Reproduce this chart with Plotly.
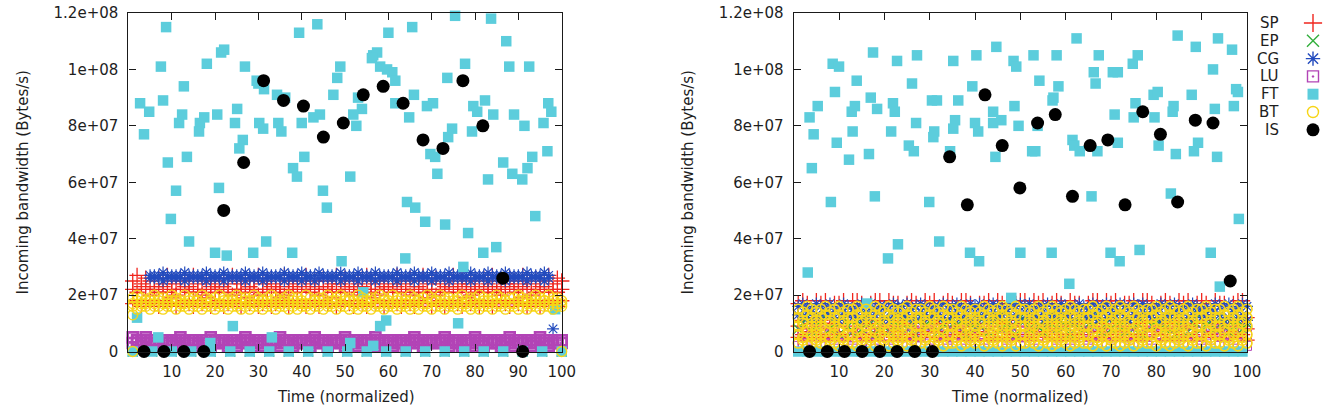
import plotly.graph_objects as go

W, H = 1332, 411

# ---------------- data (bandwidth values in MB/s, i.e. x1e6 Bytes/s) ----------------
TIME = [1, 2, 3, 4, 5, 6, 7, 8, 9, 10, 11, 12, 13, 14, 15, 16, 17, 18, 19, 20,
        21, 22, 23, 24, 25, 26, 27, 28, 29, 30, 31, 32, 33, 34, 35, 36, 37, 38, 39, 40,
        41, 42, 43, 44, 45, 46, 47, 48, 49, 50, 51, 52, 53, 54, 55, 56, 57, 58, 59, 60,
        61, 62, 63, 64, 65, 66, 67, 68, 69, 70, 71, 72, 73, 74, 75, 76, 77, 78, 79, 80,
        81, 82, 83, 84, 85, 86, 87, 88, 89, 90, 91, 92, 93, 94, 95, 96, 97, 98, 99, 100]

X_TICKS = [10, 20, 30, 40, 50, 60, 70, 80, 90, 100]
Y_TICKS = [0, 2e7, 4e7, 6e7, 8e7, 1e8, 1.2e8]
Y_TICK_TEXT = ["0", "2e+07", "4e+07", "6e+07", "8e+07", "1e+08", "1.2e+08"]
SERIES = ["SP", "EP", "CG", "LU", "FT", "BT", "IS"]

# ----- left panel -----
SP_L_A = [25,27,24,26,25,23,26,24,27,25, 24,26,25,23,27,24,25,26,24,25, 23,26,24,27,25,24,26,23,25,27,
          24,25,26,24,23,27,25,24,26,25, 27,24,25,23,26,25,24,27,24,26, 25,23,24,26,27,25,24,25,23,26,
          24,27,25,24,26,23,25,27,24,25, 26,24,23,25,27,24,26,25,24,23, 25,26,24,27,25,23,24,26,25,24,
          27,25,24,26,23,25,27,24,26,25]
SP_L_B = [22,21,23,22,20,22,21,23,21,22, 20,22,23,21,22,21,20,22,23,21, 22,23,21,20,22,22,21,23,22,20,
          21,22,23,22,21,20,22,23,21,22, 23,21,22,20,22,23,21,22,21,23, 22,20,21,23,22,21,22,20,23,22,
          21,23,22,21,20,22,23,21,22,21, 20,22,21,23,22,21,23,22,20,21, 22,21,23,22,21,20,22,23,21,22,
          23,22,20,21,22,23,21,22,21,22]
SP_L_C = [17,18,16,17,18,17,16,18,17,19, 16,17,18,17,16,18,17,19,16,17, 18,16,17,18,17,16,19,17,18,16,
          17,18,16,17,19,18,16,17,18,17, 16,18,17,16,18,17,19,16,17,18, 17,16,18,17,16,19,17,18,16,17,
          18,17,16,18,17,16,18,17,19,16, 17,18,16,17,18,17,16,19,17,18, 16,17,18,16,17,18,17,16,18,17,
          19,16,17,18,16,17,18,17,16,18]
EP_L_T = [1, 5.5, 10, 14.5, 19, 23.5, 28, 32.5, 37, 41.5, 46, 50.5, 55, 59.5, 64, 68.5, 73, 77.5, 82, 86.5, 91, 95.5, 100]
EP_L_V = [0, 0, 0, 0, 0, 0, 0, 0, 0, 0, 0, 0, 0, 0, 0, 0, 0, 0, 0, 0, 0, 0, 0]
CG_L_A = [None,None,None,None, 27,26,27,28,26,27,
          26,27,28,27,26,27,26,28,27,26, 27,28,26,27,27,26,28,27,26,27, 28,26,27,26,27,28,27,26,27,28,
          26,27,27,28,26,27,26,27,28,26, 27,26,28,27,26,27,28,26,27,27, 26,28,27,26,27,28,26,27,26,28,
          27,26,27,28,26,27,27,26,28,27, 26,27,28,26,27,26,28,27,26,27, 27,28,26,27,26,28,27, None,None,None]
CG_L_B = [None,None,None,None, 26,27,26,25,27,26,
          27,26,25,26,27,26,27,25,26,27, 26,25,27,26,26,27,25,26,27,26, 25,27,26,27,26,25,26,27,26,25,
          27,26,25,26,27,26,27,26,25,27, 26,27,25,26,27,26,25,27,26,26, 27,25,26,27,26,25,27,26,27,25,
          26,27,26,25,27,26,26,27,25,26, 27,26,25,27,26,27,25,26,27,26, 26,25,27,26,27,25,26, 8,None,None]
LU_L_A = [5,4,4,5,4,4,3,4,4,4, 4,5,4,4,4,3,4,4,5,4, 4,4,3,4,4,4,5,4,4,4, 3,4,4,4,5,4,4,4,3,4,
          4,4,5,4,4,3,4,4,4,5, 4,4,4,3,4,4,5,4,4,4, 4,3,4,4,4,5,4,4,3,4, 4,4,5,4,4,4,3,4,4,5,
          4,4,4,3,4,4,4,5,4,4, 3,4,4,4,5,4,4,3,4,4]
LU_L_B = [3,3,2,3,3,2,3,3,3,2, 3,2,3,3,3,2,3,3,2,3, 3,3,2,3,2,3,3,3,2,3, 2,3,3,3,2,3,3,2,3,3,
          3,2,3,3,3,2,3,3,3,2, 3,3,2,3,3,3,2,3,3,3, 2,3,3,2,3,3,3,2,3,3, 3,3,3,2,3,3,2,3,3,2,
          3,2,3,3,3,2,3,3,2,3, 3,3,2,3,3,3,2,3,3,3]
FT_L_T = [8.7,7.5,2.7,4.8,3.6,8.0,12.8,12.4,11.7,9.1,13.5,11.0,18.1,21.4,22.1,16.5,16.3,17.5,20.5,26.9,
          25.1,24.6,26.4,25.6,20.9,29.6,30.0,31.3,30.2,31.1,34.3,36.2,34.6,35.3,39.4,43.6,40.0,42.7,44.2,40.6,
          38.0,38.9,44.9,
          75.4,83.7,87.2,65.5,60.0,56.5,57.4,56.2,58.1,59.7,60.9,61.6,48.9,48.2,47.3,53.0,53.9,51.9,52.6,61.6,
          64.8,65.9,68.9,70.3,73.6,77.7,74.7,73.8,69.7,70.8,71.3,79.6,82.3,84.2,79.3,80.5,87.9,92.5,89.0,91.4,
          95.8,96.9,97.6,86.5,88.6,90.9,92.1,93.2,96.7,83.0,51.2,64.3,
          9.8,14.0,20.0,22.7,28.8,31.8,37.8,45.8,2.0,6.9,24.1,18.9,33.1,51.2,56.5,
          93.9,49.2,63.9,66.2,68.5,73.1,78.4,81.9,84.9,77.3,54.2,59.5,58.1,76.1,98.5,
          1,5.5,10,14.5,19,23.5,28,32.5,37,41.5,46,50.5,55,59.5,64,68.5,73,77.5,82,86.5,91,95.5,100]
FT_L_V = [115,101,88,85,77,89,94,84,81,67,69,57,102,106,107,81,78,83,84,101,
          86,81,75,72,58,96,95,93,81,79,91,90,81,78,113,116,81,83,84,69,
          65,62,57,
          119,118,110,115,113,105,106,104,101,100,99,96,101,97,91,90,86,84,80,88,
          83,91,87,88,97,102,79,76,70,69,63,87,89,84,78,85,101,101,84,80,
          81,88,85,67,63,61,65,69,71,61,62,53,
          47,39,35,34,35,39,35,51,12,5,9,3,5,3,2,
          48,32,33,51,46,45,42,35,37,30,21,11,9,10,15,
          0,0,0,0,0,0,0,0,0,0,0,0,0,0,0,0,0,0,0,0,0,0,0]
BT_L_A = [19,20,19,18,19,20,19,19,18,20, 19,18,20,19,19,18,20,19,18,19, 20,19,18,19,20,19,19,18,20,19,
          18,19,20,19,18,19,20,19,19,18, 20,19,18,19,19,20,18,19,20,19, 19,18,20,19,18,19,19,20,19,18,
          20,19,19,18,20,19,18,19,20,19, 18,20,19,19,18,19,20,18,19,19, 20,19,18,19,20,19,18,19,19,20,
          19,18,19,20,19,18,20,19,19,18]
BT_L_B = [17,18,17,17,18,17,18,17,17,18, 18,17,17,18,17,18,17,17,18,17, 17,18,17,18,17,17,18,17,18,17,
          18,17,18,17,17,18,17,18,17,17, 17,17,18,17,18,17,17,18,17,18, 18,17,17,18,17,18,17,17,18,17,
          17,18,17,17,18,17,18,17,17,18, 18,17,18,17,17,18,17,17,18,17, 17,18,17,18,17,17,18,17,17,18,
          18,17,17,18,17,18,17,18,17,17]
BT_L_C = [16,15,16,16,15,16,16,15,16,16, 15,16,16,15,16,16,15,16,16,15, 16,16,15,16,16,15,16,15,16,16,
          15,16,16,15,16,16,15,16,15,16, 16,15,16,16,15,16,16,15,16,16, 15,16,15,16,16,15,16,16,15,16,
          16,15,16,16,15,16,15,16,16,15, 16,16,15,16,16,15,16,16,15,16, 15,16,16,15,16,16,15,16,16,15,
          16,15,16,16,15,16,16,15,16,16]
BT_L_EXTRA_T = [1, 1, 100]
BT_L_EXTRA_V = [13, 0, 0]
IS_L_T = [3.6, 8.2, 12.8, 17.4, 22.0, 26.6, 31.2, 35.8, 40.4, 45.0, 49.6, 54.2, 58.8, 63.4, 68.0, 72.6, 77.2, 81.8, 86.4, 91.0]
IS_L_V = [0, 0, 0, 0, 50, 67, 96, 89, 87, 76, 81, 91, 94, 88, 75, 72, 96, 80, 26, 0]

# ----- right panel -----
SP_R_A = [17,18,17,12,18,17,18,10,17,17, 18,13,18,18,17,11,17,18,18,12, 18,17,17,10,17,18,17,13,18,17,
          18,11,17,18,17,12,18,18,17,10, 17,17,18,13,18,17,17,11,17,18, 18,12,18,17,18,10,17,18,17,13,
          18,17,17,11,17,18,18,12,18,17, 18,10,17,17,18,13,18,18,17,11, 17,18,17,12,18,17,18,10,17,18,
          17,13,18,17,17,11,17,18,18,12]
SP_R_B = [9,11,8,10,9,11,10,8,9,10, 11,9,8,10,11,9,10,8,11,9, 10,8,9,11,10,9,8,10,11,9, 8,10,11,9,10,8,9,11,10,9,
          11,8,10,9,11,10,8,9,10,11, 9,10,8,11,9,10,11,8,9,10, 10,9,11,8,10,9,11,10,8,9, 11,10,9,8,10,11,9,10,8,11,
          9,8,10,11,9,10,8,9,11,10, 10,11,9,8,10,9,11,10,9,8]
SP_R_C = [5,6,4,7,5,6,4,5,7,6, 4,5,6,7,5,4,6,5,7,4, 6,5,7,4,6,5,4,6,7,5, 5,7,4,6,5,6,7,4,5,6,
          7,4,6,5,4,7,5,6,4,5, 6,5,4,7,6,5,7,4,6,5, 4,6,5,6,7,4,5,7,6,4, 5,7,6,4,5,6,4,5,7,6,
          6,4,5,7,4,6,5,6,4,7, 5,6,7,5,4,6,7,5,6,4]
EP_R = [8,10,12,7,9,11,13,8,10,6, 12,9,7,11,8,13,10,6,9,12, 7,11,9,13,8,10,6,12,9,11, 13,7,10,8,12,9,11,6,10,8,
        9,12,7,11,13,8,10,9,6,12, 11,8,13,9,7,10,12,8,11,9, 6,10,12,8,11,9,13,7,10,8, 12,9,7,11,8,10,6,13,9,11,
        10,8,12,6,9,11,7,10,13,8, 9,11,8,12,10,7,9,11,8,10]
CG_R_A = [16,17,16,15,17,16,16,17,15,16, 17,16,15,16,17,16,17,15,16,16, 15,17,16,16,17,15,16,17,16,15,
          16,16,17,15,16,17,16,15,17,16, 17,15,16,17,16,16,15,17,16,17, 16,17,15,16,16,17,16,15,17,16,
          15,16,17,16,15,17,16,16,17,15, 16,17,16,15,17,16,17,16,15,16, 17,16,16,17,15,16,16,17,16,15,
          16,15,17,16,16,17,15,16,17,16]
CG_R_B = [13,12,14,11,13,12,14,13,12,11, 14,13,12,13,11,14,12,13,14,12, 11,13,14,12,13,12,11,14,13,12,
          13,14,12,11,13,14,12,13,11,14, 12,13,11,14,12,13,14,12,13,11, 14,12,13,12,14,11,13,12,14,13,
          12,11,14,13,12,13,11,14,12,13, 13,14,12,11,13,12,14,13,12,14, 11,13,12,14,13,11,12,13,14,12,
          13,12,14,13,11,12,14,12,13,11]
LU_R_A = [6,7,5,8,6,5,7,6,8,5, 7,6,5,7,8,6,5,7,6,8, 5,6,7,5,6,8,7,5,6,7, 8,5,6,7,5,6,8,7,5,6,
          7,8,6,5,7,6,5,8,6,7, 5,7,6,8,5,7,6,5,7,8, 6,5,8,6,7,5,6,7,8,5, 6,7,5,6,8,7,5,6,7,6,
          8,6,7,5,6,7,8,5,6,7, 5,6,8,7,5,6,7,8,5,6]
LU_R_B = [2,3,2,1,3,2,2,3,1,2, 3,2,1,2,3,2,3,1,2,2, 1,3,2,2,3,1,2,3,2,1, 2,2,3,1,2,3,2,1,3,2,
          3,1,2,3,2,2,1,3,2,3, 2,3,1,2,2,3,2,1,3,2, 1,2,3,2,1,3,2,2,3,1, 2,3,2,1,3,2,3,2,1,2,
          3,2,2,3,1,2,2,3,2,1, 2,1,3,2,2,3,1,2,3,2]
FT_R_T = [3.5,5.3,4.4,4.0,8.6,10.0,9.1,9.5,13.9,12.8,13.5,13.0,12.2,8.2,17.5,17.0,18.4,16.6,17.9,22.8,
          21.9,22.3,21.5,27.2,26.1,27.0,25.4,26.5,30.5,31.6,31.0,30.8,29.9,35.2,36.3,35.6,35.2,34.5,40.3,39.4,
          40.0,40.7,44.7,44.0,44.0,44.5,
          48.5,49.1,52.9,58.0,54.2,58.4,57.3,57.1,48.7,45.8,49.6,53.8,52.6,53.3,62.4,61.5,61.9,63.1,67.3,66.2,
          66.6,67.0,70.4,71.5,70.8,71.5,74.8,75.9,75.4,75.0,79.4,80.3,79.6,80.5,84.7,83.8,83.6,84.3,88.7,87.8,
          89.2,88.3,92.5,93.6,96.7,92.9,93.4,97.1,97.6,98.0,65.7,83.2,
          3.1,20.8,23.0,32.1,38.9,40.9,16.2,50.0,56.9,69.9,71.9,76.3,60.8,48.0,92.0,94.0,98.2,
          1,3,5,7,9,11,13,15,17,19,21,23,25,27,29,31,33,35,37,39,41,43,45,47,49,
          51,53,55,57,59,61,63,65,67,69,71,73,75,77,79,81,83,85,87,89,91,93,95,97,99]
FT_R_V = [83,87,77,65,102,101,92,74,96,85,87,78,68,53,106,90,86,70,55,103,
          88,85,78,105,95,81,73,71,89,89,78,76,53,103,89,82,79,71,105,94,
          81,78,108,85,81,69,
          103,101,105,105,96,94,90,89,87,82,80,80,71,71,111,75,73,71,105,99,
          95,71,99,99,84,74,102,105,88,83,91,92,83,73,112,87,85,70,108,91,
          74,71,100,111,107,86,69,87,93,92,55,56,
          28,33,38,39,35,32,17,35,35,35,32,36,24,19,35,23,47,
          0,0,0,0,0,0,0,0,0,0,0,0,0,0,0,0,0,0,0,0,0,0,0,0,0,
          0,0,0,0,0,0,0,0,0,0,0,0,0,0,0,0,0,0,0,0,0,0,0,0,0]
BT_R_A = [15,14,16,15,14,15,16,14,15,16, 14,15,15,16,14,15,14,16,15,14, 16,15,14,15,16,14,15,15,14,16,
          15,14,16,15,15,14,16,15,14,15, 14,16,15,14,15,16,15,14,16,15, 15,14,15,16,14,15,16,15,14,15,
          16,15,14,15,15,16,14,15,16,14, 15,16,15,14,16,15,14,15,15,16, 14,15,16,15,14,15,16,14,15,15,
          16,14,15,15,16,14,15,16,14,15]
BT_R_B = [12,11,13,12,11,12,13,11,12,13, 11,12,12,13,11,12,11,13,12,11, 13,12,11,12,13,11,12,12,11,13,
          12,11,13,12,12,11,13,12,11,12, 11,13,12,11,12,13,12,11,13,12, 12,11,12,13,11,12,13,12,11,12,
          13,12,11,12,12,13,11,12,13,11, 12,13,12,11,13,12,11,12,12,13, 11,12,13,12,11,12,13,11,12,12,
          13,11,12,12,13,11,12,13,11,12]
BT_R_C = [9,10,8,9,10,9,8,10,9,8, 10,9,9,8,10,9,10,8,9,10, 8,9,10,9,8,10,9,9,10,8, 9,10,8,9,9,10,8,9,10,9,
          10,8,9,10,9,8,9,10,8,9, 9,10,9,8,10,9,8,9,10,9, 8,9,10,9,9,8,10,9,8,10, 9,8,9,10,8,9,10,9,9,8,
          10,9,8,9,10,9,8,10,9,9, 8,10,9,9,8,10,9,8,10,9]
BT_R_D = [6,5,7,6,5,6,7,5,6,7, 5,6,6,7,5,6,5,7,6,5, 7,6,5,6,7,5,6,6,5,7, 6,5,7,6,6,5,7,6,5,6,
          5,7,6,5,6,7,6,5,7,6, 6,5,6,7,5,6,7,6,5,6, 7,6,5,6,6,7,5,6,7,5, 6,7,6,5,7,6,5,6,6,7,
          5,6,7,6,5,6,7,5,6,6, 7,5,6,6,7,5,6,7,5,6]
BT_R_E = [3,4,2,3,4,3,2,4,3,2, 4,3,3,2,4,3,4,2,3,4, 2,3,4,3,2,4,3,3,4,2, 3,4,2,3,3,4,2,3,4,3,
          4,2,3,4,3,2,3,4,2,3, 3,4,3,2,4,3,2,3,4,3, 2,3,4,3,3,2,4,3,2,4, 3,2,3,4,2,3,4,3,3,2,
          4,3,2,3,4,3,2,4,3,3, 2,4,3,3,2,4,3,2,4,3]
IS_R_T = [3.5, 7.4, 11.2, 15.1, 19.0, 22.8, 26.7, 30.6, 34.4, 38.3, 42.2, 46.0, 49.9,
          53.8, 57.7, 61.5, 65.4, 69.3, 73.1, 77.0, 80.9, 84.7, 88.6, 92.5, 96.3, 100.2]
IS_R_V = [0, 0, 0, 0, 0, 0, 0, 0, 69, 52, 91, 73, 58, 81, 84, 55, 73, 75, 52, 85, 77, 53, 82, 81, 25, 0]

# ---------------- styling ----------------
MB = 1e6
FONT = "DejaVu Sans"
TXT = "#1e1e1e"
AX = "#1a1a1a"
RED = "rgb(240,38,30)"
GREEN = "rgb(50,175,60)"
BLUE = "rgb(35,75,190)"
PURPLE = "rgb(178,68,182)"
CYAN = "rgb(92,205,220)"
YELLOW = "rgb(247,213,22)"

STY = {
    "SP": dict(symbol="cross-thin", size=11, color=RED, line=dict(color=RED, width=1.3)),
    "EP": dict(symbol="x-thin", size=10, color=GREEN, line=dict(color=GREEN, width=1.3)),
    "CG": dict(symbol="asterisk", size=10, color=BLUE, line=dict(color=BLUE, width=1.2)),
    "LU": dict(symbol="square-open-dot", size=10, color=PURPLE, line=dict(color=PURPLE, width=2.6)),
    "LU_thin": dict(symbol="square-open-dot", size=9, color=PURPLE, line=dict(color=PURPLE, width=1.0)),
    "FT": dict(symbol="square", size=10.5, color=CYAN, line=dict(width=0)),
    "BT": dict(symbol="circle-open", size=10, color=YELLOW, line=dict(color=YELLOW, width=1.3)),
    "BT_dense": dict(symbol="circle-open", size=10, color=YELLOW, line=dict(color=YELLOW, width=1.6)),
    "IS": dict(symbol="circle", size=13, color="black", line=dict(width=0)),
}
LEG_STY = {
    "SP": dict(symbol="cross-thin", size=13, color=RED, line=dict(color=RED, width=1.4)),
    "EP": dict(symbol="x-thin", size=12, color=GREEN, line=dict(color=GREEN, width=1.4)),
    "CG": dict(symbol="asterisk", size=12, color=BLUE, line=dict(color=BLUE, width=1.4)),
    "LU": dict(symbol="square-open-dot", size=11, color=PURPLE, line=dict(color=PURPLE, width=1.4)),
    "FT": dict(symbol="square", size=11, color=CYAN, line=dict(width=0)),
    "BT": dict(symbol="circle-open", size=11, color=YELLOW, line=dict(color=YELLOW, width=1.4)),
    "IS": dict(symbol="circle", size=13, color="black", line=dict(width=0)),
}

fig = go.Figure()


def rows_xy(times, rows):
    xs, ys = [], []
    for row in rows:
        for t, v in zip(times, row):
            if v is not None:
                xs.append(t)
                ys.append(v * MB)
    return xs, ys


def add(xs, ys, key, xa, ya):
    fig.add_trace(go.Scatter(x=xs, y=ys, mode="markers", marker=STY[key], xaxis=xa, yaxis=ya,
                             cliponaxis=False, showlegend=False, hoverinfo="skip"))


# left panel, in gnuplot drawing order
add(*rows_xy(TIME, [SP_L_A, SP_L_B, SP_L_C]), "SP", "x", "y")
add(*rows_xy(EP_L_T, [EP_L_V]), "EP", "x", "y")
add(*rows_xy(TIME, [CG_L_A, CG_L_B]), "CG", "x", "y")
add(*rows_xy(TIME, [LU_L_A, LU_L_B]), "LU", "x", "y")
add(*rows_xy(FT_L_T, [FT_L_V]), "FT", "x", "y")
bx, by = rows_xy(TIME, [BT_L_A, BT_L_B, BT_L_C])
ex, ey = rows_xy(BT_L_EXTRA_T, [BT_L_EXTRA_V])
add(bx + ex, by + ey, "BT", "x", "y")
add(*rows_xy(IS_L_T, [IS_L_V]), "IS", "x", "y")

# right panel
add(*rows_xy(TIME, [SP_R_A, SP_R_B, SP_R_C]), "SP", "x2", "y2")
add(*rows_xy(TIME, [EP_R]), "EP", "x2", "y2")
add(*rows_xy(TIME, [CG_R_A, CG_R_B]), "CG", "x2", "y2")
add(*rows_xy(TIME, [LU_R_A, LU_R_B]), "LU_thin", "x2", "y2")
add(*rows_xy(FT_R_T, [FT_R_V]), "FT", "x2", "y2")
add(*rows_xy(TIME, [BT_R_A, BT_R_B, BT_R_C, BT_R_D, BT_R_E]), "BT_dense", "x2", "y2")
add(*rows_xy(IS_R_T, [IS_R_V]), "IS", "x2", "y2")

# legend (text left, symbol right) drawn on a full-figure pixel axis
LEG_X = 1313
LEG_TEXT_X = 1281
LEG_Y0, LEG_DY = 23, 17.8
for i, name in enumerate(SERIES):
    yy = LEG_Y0 + i * LEG_DY
    fig.add_trace(go.Scatter(x=[LEG_X], y=[yy], mode="markers", marker=LEG_STY[name],
                             xaxis="x3", yaxis="y3", showlegend=False, hoverinfo="skip", cliponaxis=False))
    fig.add_annotation(x=LEG_TEXT_X, y=yy, xref="x3", yref="y3", text=name, showarrow=False,
                       xanchor="right", yanchor="middle", font=dict(family=FONT, size=15, color=TXT))

# ---------------- layout ----------------
PLOT_TOP, PLOT_BOT = 13, 351.5
L_X0, L_X1 = 128.4, 561.7
R_X0, R_X1 = 793.7, 1247.0
ydom = [1 - PLOT_BOT / H, 1 - PLOT_TOP / H]
tickfont = dict(family=FONT, size=15, color=TXT)


def xaxis(dom, anchor):
    return dict(domain=dom, anchor=anchor, range=[0, 100], tickmode="array", tickvals=X_TICKS,
                ticktext=[str(v) for v in X_TICKS], ticks="inside", ticklen=7, tickwidth=1,
                tickcolor=AX, showline=True, linewidth=1.2, linecolor=AX, mirror="ticks",
                showgrid=False, zeroline=False, tickfont=tickfont, automargin=False,
                ticklabelstandoff=6)


def yaxis(anchor):
    return dict(domain=ydom, anchor=anchor, range=[0, 1.2e8], tickmode="array", tickvals=Y_TICKS,
                ticktext=Y_TICK_TEXT, ticks="inside", ticklen=7, tickwidth=1, tickcolor=AX,
                showline=True, linewidth=1.2, linecolor=AX, mirror="ticks", showgrid=False,
                zeroline=False, tickfont=tickfont, automargin=False, ticklabelstandoff=6)


fig.update_layout(
    template="none",
    width=W, height=H,
    margin=dict(l=0, r=0, t=0, b=0),
    paper_bgcolor="white",
    plot_bgcolor="rgba(0,0,0,0)",
    showlegend=False,
    xaxis=xaxis([L_X0 / W, L_X1 / W], "y"),
    yaxis=yaxis("x"),
    xaxis2=xaxis([R_X0 / W, R_X1 / W], "y2"),
    yaxis2=yaxis("x2"),
    xaxis3=dict(domain=[0, 1], range=[0, W], visible=False, anchor="y3", fixedrange=True),
    yaxis3=dict(domain=[0, 1], range=[H, 0], visible=False, anchor="x3", fixedrange=True),
)

titlefont = dict(family=FONT, size=15, color=TXT)
for cx in (345.5, 1020.3):
    fig.add_annotation(x=cx / W, y=1 - 397 / H, xref="paper", yref="paper", text="Time (normalized)",
                       showarrow=False, xanchor="center", yanchor="middle", font=titlefont)
for cx in (23, 688):
    fig.add_annotation(x=cx / W, y=1 - 182.5 / H, xref="paper", yref="paper",
                       text="Incoming bandwidth (Bytes/s)", textangle=-90, showarrow=False,
                       xanchor="center", yanchor="middle", font=titlefont)

fig.write_html("out.html")
